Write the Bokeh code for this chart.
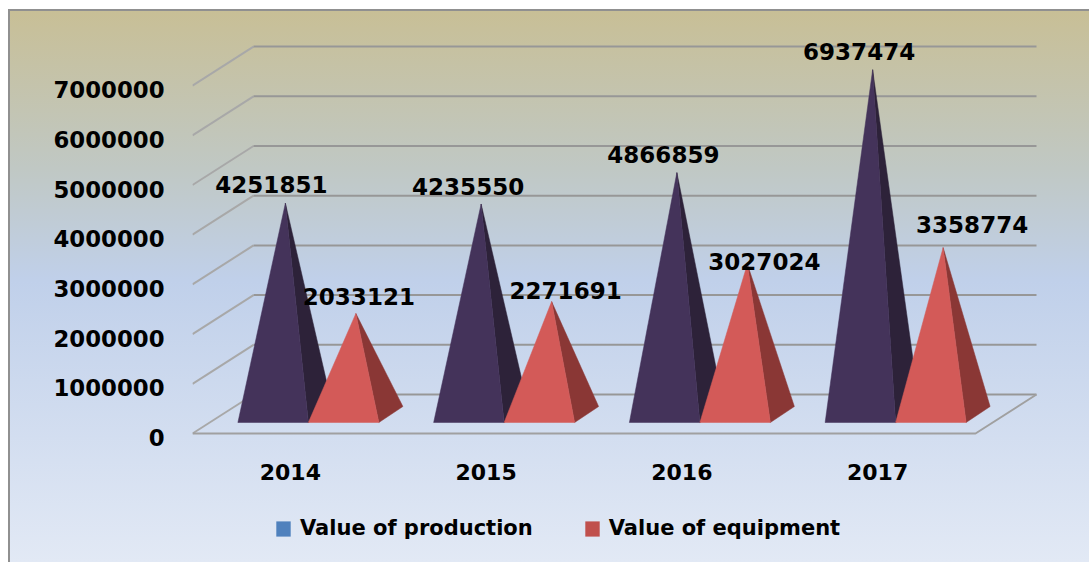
from bokeh.plotting import figure
from bokeh.models import (Range1d, LinearAxis, FixedTicker, Legend, LegendItem, ColumnDataSource,
                          BasicTickFormatter)
from bokeh.core.properties import value
from bokeh.embed import file_html
from bokeh.resources import INLINE

years = ["2014", "2015", "2016", "2017"]
production = [4251851, 4235550, 4866859, 6937474]
equipment = [2033121, 2271691, 3027024, 3358774]
y_ticks = [0, 1000000, 2000000, 3000000, 4000000, 5000000, 6000000, 7000000]
series_names = ["Value of production", "Value of equipment"]

# layout constants (page pixels)
FONT = "DejaVu Sans"
PX_PER_CAT = 195.75
PX_PER_UNIT = 49.7 / 1e6
W, H = 1089, 562
FRAME_L, FRAME_R, FRAME_T, FRAME_B = 192, W, 10, H
ZERO_Y = 433
DEPTH_X, DEPTH_Y = 61, 39

def dx(px):
    return px / PX_PER_CAT

def dy(px):
    return px / PX_PER_UNIT

x_start = -0.5
y_start = -dy(FRAME_B - ZERO_Y)
y_end = dy(ZERO_Y - FRAME_T)

p = figure(width=W, height=H, output_backend="svg", toolbar_location=None,
           x_range=Range1d(x_start, x_start + dx(FRAME_R - FRAME_L)),
           y_range=Range1d(y_start, y_end),
           min_border_left=FRAME_L, min_border_right=0,
           min_border_top=FRAME_T, min_border_bottom=0,
           x_axis_location=None, y_axis_location=None, tools="")
p.grid.visible = False
p.outline_line_color = None
p.background_fill_color = None
p.border_fill_color = None
p.styles = {
    "background": "linear-gradient(#fff,#fff) 0 0/8px 100% no-repeat,"
                  "linear-gradient(#fff,#fff) 0 0/100% 9px no-repeat,"
                  "linear-gradient(#909090,#909090) 8px 0/2px 100% no-repeat,"
                  "linear-gradient(#909090,#909090) 0 9px/100% 2px no-repeat,"
                  "linear-gradient(180deg,#c8bf96 0%,#c8bf96 2%,#c0c8c4 30%,#c0d0ea 50%,#e2e9f5 100%)"
}

# axes: labels sit a little below their gridline
axis_kw = dict(axis_line_color=None, major_tick_line_color=None, minor_tick_line_color=None,
               major_label_text_font=FONT, major_label_text_font_style="bold",
               major_label_text_color="#000000")
shift = dy(4)
p.extra_y_ranges = {"labels": Range1d(y_start + shift, y_end + shift)}
yaxis = LinearAxis(y_range_name="labels", ticker=FixedTicker(ticks=y_ticks),
                   formatter=BasicTickFormatter(use_scientific=False),
                   major_label_text_font_size="22.8px", major_label_standoff=22, **axis_kw)
p.add_layout(yaxis, "left")
xaxis = LinearAxis(ticker=FixedTicker(ticks=list(range(len(years)))), fixed_location=-dy(7),
                   major_label_overrides={i: y for i, y in enumerate(years)},
                   major_label_text_font_size="22px", major_label_standoff=17, **axis_kw)
p.add_layout(xaxis, "below")

# perspective wall and floor lines
x_left = x_start
x_back = x_left + dx(DEPTH_X)
x_right = x_left + len(years)
horiz_x, horiz_y, slant_x, slant_y = [], [], [], []
for t in y_ticks:
    horiz_x.append([x_back, x_right + dx(DEPTH_X)])
    horiz_y.append([t + dy(DEPTH_Y), t + dy(DEPTH_Y)])
    slant_x.append([x_left, x_back])
    slant_y.append([t, t + dy(DEPTH_Y)])
p.multi_line(slant_x, slant_y, line_color="#a8a8a8", line_width=2)
p.multi_line(horiz_x, horiz_y, line_color="#979797", line_width=2)
p.line([x_left, x_right, x_right + dx(DEPTH_X)], [0, 0, dy(DEPTH_Y)], line_color="#a0a0a0", line_width=2)

# pyramids
BASE_W, BASE_DX, BASE_DY = 70.5, 24, 16
FLOOR_LIFT = 11
APEX_DX, APEX_LIFT = 47.5, 19
FIRST_LEFT = -52.5   # first base's left corner relative to the category centre

def faces(vals, slot):
    fx, fy, sx, sy = [], [], [], []
    for i, v in enumerate(vals):
        left = i + dx(FIRST_LEFT + slot * BASE_W)
        right = left + dx(BASE_W)
        floor = dy(FLOOR_LIFT)
        ax = left + dx(APEX_DX)
        ay = v + dy(APEX_LIFT)
        fx.append([left, right, ax])
        fy.append([floor, floor, ay])
        sx.append([right, right + dx(BASE_DX), ax])
        sy.append([floor, floor + dy(BASE_DY), ay])
    return fx, fy, sx, sy

colors = [("#44335a", "#2d2239"), ("#d35a58", "#8a3735")]
for slot, (vals, (c_front, c_side)) in enumerate(zip([production, equipment], colors)):
    fx, fy, sx, sy = faces(vals, slot)
    p.patches(sx, sy, fill_color=c_side, line_color=c_side, line_width=0.5)
    p.patches(fx, fy, fill_color=c_front, line_color=c_front, line_width=0.5)

# data labels
label_dx = {0: [-14, -13, -13.5, -13.5], 1: [3, 14, 17, 29]}
label_dy = {0: [-19, -17, -18, -18], 1: [-17, -11, -3, -23]}
for slot, vals in enumerate([production, equipment]):
    src = ColumnDataSource(dict(
        x=[i + dx(FIRST_LEFT + slot * BASE_W + APEX_DX) for i in range(len(vals))],
        y=[v + dy(APEX_LIFT) for v in vals],
        t=[str(v) for v in vals],
        xo=label_dx[slot], yo=label_dy[slot]))
    p.text("x", "y", text="t", source=src, x_offset="xo", y_offset="yo",
           text_align="center", text_baseline="middle",
           text_font=value(FONT), text_font_style="bold", text_font_size="23px", text_color="#000000")

# legend
nan = float("nan")
r1 = p.quad(left=[nan], right=[nan], top=[nan], bottom=[nan], fill_color="#4f81bd", line_color=None)
r2 = p.quad(left=[nan], right=[nan], top=[nan], bottom=[nan], fill_color="#c0504d", line_color=None)
legend = Legend(items=[LegendItem(label=series_names[0], renderers=[r1]),
                       LegendItem(label=series_names[1], renderers=[r2])],
                orientation="horizontal", location=(274 - FRAME_L, 22),
                glyph_width=18, glyph_height=19, label_standoff=8, spacing=50,
                padding=0, margin=0, border_line_color=None, background_fill_alpha=0,
                label_text_font=FONT, label_text_font_style="bold",
                label_text_font_size="21px", label_text_color="#000000")
p.add_layout(legend, "center")

open("out.html", "w").write(file_html(p, INLINE))
